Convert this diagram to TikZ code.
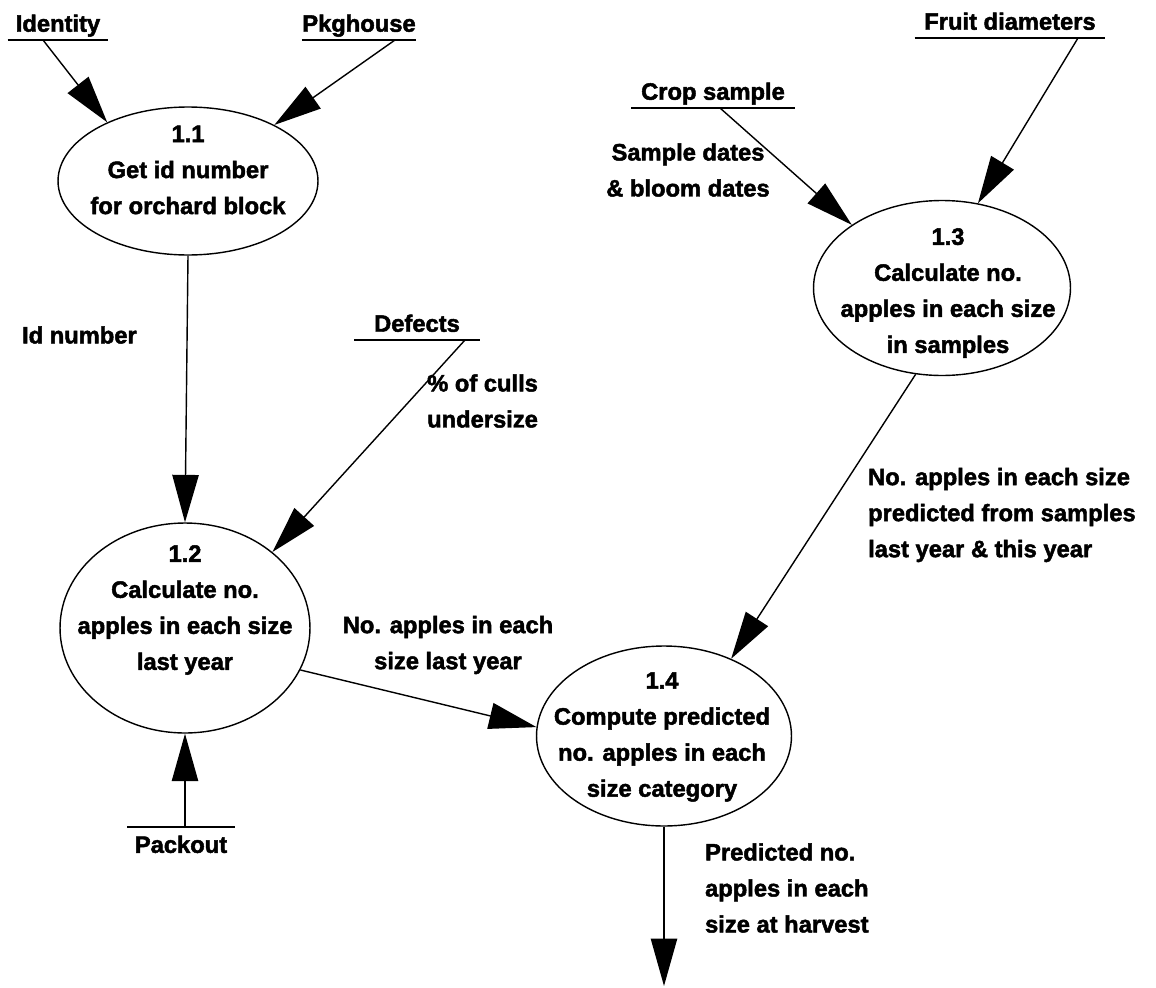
\documentclass[tikz,border=0pt]{standalone}
\usepackage{fontspec}
\setmainfont{Liberation Sans}[BoldFeatures={FakeBold=2}]
\usetikzlibrary{arrows.meta,shapes.geometric}

\tikzset{
  txt/.style={font=\bfseries\fontsize{13.5pt}{20.5pt}\selectfont, align=center, inner sep=1pt},
  proc/.style={draw, ellipse, line width=0.8pt, inner sep=0pt},
  store/.style={txt, inner xsep=0pt, inner ysep=2pt, text height=9.5pt, text depth=2.5pt},
  flow/.style={line width=0.8pt, -{Triangle[length=27pt,width=15pt]}}
}

\begin{document}
\begin{tikzpicture}[x=0.02cm,y=-0.02cm]
\useasboundingbox (0,0) rectangle (1156,987);

% process bubbles and their captions
\node[proc, minimum width=5.2cm, minimum height=2.96cm] (p11) at (188,181) {};
\node[txt] (t11) at (188,170) {1.1\\Get id number\\for orchard block};
\node[proc, minimum width=5.0cm, minimum height=4.2cm] (p12) at (185,628) {};
\node[txt] (t12) at (185,610) {1.2\\Calculate no.\\apples in each size\\last year};
\node[proc, minimum width=5.14cm, minimum height=3.5cm] (p13) at (942,288) {};
\node[txt] (t13) at (948,293) {1.3\\Calculate no.\\apples in each size\\in samples};
\node[proc, minimum width=5.1cm, minimum height=3.6cm] (p14) at (664,736) {};
\node[txt] (t14) at (662,737) {1.4\\Compute predicted\\no. apples in each\\size category};

% data stores (name with a bar under or over it)
\node[store, anchor=south, minimum width=2.0cm] (sid) at (58,40) {Identity};
\node[store, anchor=south, minimum width=1.84cm] (spk) at (359,40) {Pkghouse};
\node[store, anchor=south, minimum width=2.5cm] (sdef) at (417,340) {Defects};
\node[store, anchor=north, minimum width=2.14cm, inner ysep=5pt] (spo) at (181,827) {Packout};
\node[store, anchor=south, minimum width=3.26cm] (scr) at (713,108) {Crop sample};
\node[store, anchor=south, minimum width=3.8cm] (sfr) at (1010,38) {Fruit diameters};
\foreach \s in {sid,spk,sdef,scr,sfr}
  \draw[line width=0.8pt] (\s.south west) -- (\s.south east);
\draw[line width=0.8pt] (spo.north west) -- (spo.north east);

% points where the flows leave the stores
\coordinate (cid) at (43,40);
\coordinate (cpk) at (395,40);
\coordinate (cdef) at (465,340);
\coordinate (cpo) at (185,827);
\coordinate (ccr) at (720,108);
\coordinate (cfr) at (1078,38);
\coordinate (bot) at (0,986);
\coordinate (out) at (p14.south |- bot);

% flows
\draw[flow] (cid) -- (p11.144);
\draw[flow] (cpk) -- (p11.33);
\draw[flow] (p11.south) -- (p12.north);
\draw[flow] (cdef) -- (p12.41);
\draw[flow] (cpo) -- (p12.south);
\draw[flow] (p12.-20) -- (p14.176);
\draw[flow] (ccr) -- (p13.145);
\draw[flow] (cfr) -- (p13.67);
\draw[flow] (p13.253) -- (p14.49);
\draw[flow] (p14.south) -- (out);

% flow labels
\node[txt, anchor=west] (lid) at (20,335) {Id number};
\node[txt, align=right, anchor=east] (lcull) at (540,401) {\% of culls\\undersize};
\node[txt] (llast) at (448,645) {No. apples in each\\size last year};
\node[txt] (ldates) at (688,170) {Sample dates\\\& bloom dates};
\node[txt, align=left, anchor=west] (lpred) at (866,515)
  {No. apples in each size\\predicted from samples\\last year \& this year};
\node[txt, align=left, anchor=west] (lharv) at (703,888)
  {Predicted no.\\apples in each\\size at harvest};
\end{tikzpicture}
\end{document}
